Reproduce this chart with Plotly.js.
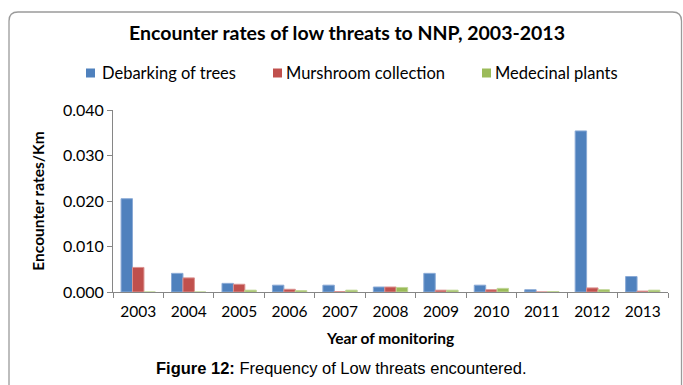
<!DOCTYPE html>
<html>
<head>
<meta charset="utf-8">
<script src="https://cdn.plot.ly/plotly-3.0.1.min.js"></script>
<style>
  html, body { margin: 0; padding: 0; background: #fff; }
  #chart { width: 683px; height: 385px; }
</style>
</head>
<body>
<div id="chart"></div>
<script>
// Monitoring years
const years = ['2003','2004','2005','2006','2007','2008','2009','2010','2011','2012','2013'];

// Encounter rates per km for each low threat
const debarking = [0.0205, 0.0041, 0.0019, 0.0015, 0.0015, 0.0011, 0.0041, 0.0015, 0.0005, 0.0354, 0.0034];
const mushroom  = [0.0054, 0.0031, 0.0017, 0.0006, 0.0001, 0.0011, 0.0004, 0.0005, 0.0000, 0.0009, 0.0002];
const medicinal = [0.0000, 0.0000, 0.0004, 0.0003, 0.0004, 0.0010, 0.0004, 0.0008, 0.0001, 0.0005, 0.0004];

const seriesNames = ['Debarking of trees', 'Murshroom collection', 'Medecinal plants'];
const seriesColors = ['#4F81BD', '#C0504D', '#9BBB59'];
const seriesEdges  = ['#8AAAD6', '#DB9290', '#C0D697'];

const chartTitle = 'Encounter rates of low threats to NNP, 2003-2013';
const yTitle = 'Encounter rates/Km';
const xTitle = 'Year of monitoring';
const captionBold = 'Figure 12:';
const captionText = ' Frequency of Low threats encountered.';

// plot area in pixels
const W = 683, H = 385;
const L = 113, R = 668, T = 110, B = 292;
const px = x => (x - L) / (R - L);
const py = y => (B - y) / (B - T);

const FONT = 'Lato, "Open Sans", sans-serif';
const values = [debarking, mushroom, medicinal];

const traces = values.map((v, i) => ({
  type: 'bar',
  x: years,
  y: v,
  name: seriesNames[i],
  marker: { color: seriesColors[i], line: { color: seriesEdges[i], width: 1 } },
  showlegend: false,
  hoverinfo: 'x+y+name'
}));

// legend entries: square swatch + label
const legendSquares = [86, 273, 482];
const legendText = [100, 284, 493];
const legendY = 73;
const shapes = [];
const annotations = [];
seriesNames.forEach((n, i) => {
  shapes.push({
    type: 'rect', xref: 'paper', yref: 'paper',
    x0: px(legendSquares[i]), x1: px(legendSquares[i] + 9),
    y0: py(legendY + 4.5), y1: py(legendY - 4.5),
    fillcolor: seriesColors[i], line: { width: 0 }
  });
  annotations.push({
    xref: 'paper', yref: 'paper', x: px(legendText[i]), y: py(legendY),
    xanchor: 'left', yanchor: 'middle', showarrow: false,
    text: n, font: { family: FONT, size: 16.5, color: '#000' }
  });
});

// rounded outer frame, open at the bottom
const fx0 = px(9), fx1 = px(681.5), fyt = py(12), fyb = py(400);
const rx = 9 / (R - L), ry = 9 / (B - T);
shapes.push({
  type: 'path', xref: 'paper', yref: 'paper', layer: 'below',
  path: `M ${fx0},${fyb} L ${fx0},${fyt - ry} Q ${fx0},${fyt} ${fx0 + rx},${fyt} ` +
        `L ${fx1 - rx},${fyt} Q ${fx1},${fyt} ${fx1},${fyt - ry} L ${fx1},${fyb}`,
  line: { color: '#9A9A9A', width: 1.3 }
});

// chart title
annotations.push({
  xref: 'paper', yref: 'paper', x: px(347), y: py(32),
  xanchor: 'center', yanchor: 'middle', showarrow: false,
  text: '<b>' + chartTitle + '</b>', font: { family: FONT, size: 19.5, color: '#000' }
});

// figure caption
annotations.push({
  xref: 'paper', yref: 'paper', x: px(341), y: py(368),
  xanchor: 'center', yanchor: 'middle', showarrow: false,
  text: '<b>' + captionBold + '</b>' + captionText,
  font: { family: '"Liberation Sans", Arial, sans-serif', size: 16.5, color: '#000' }
});

const layout = {
  width: W, height: H,
  margin: { l: L, r: W - R, t: T, b: H - B, pad: 0 },
  paper_bgcolor: '#fff', plot_bgcolor: '#fff',
  barmode: 'group', bargap: 0.32, bargroupgap: 0,
  showlegend: false,
  font: { family: FONT, color: '#000' },
  xaxis: {
    type: 'category',
    tickson: 'boundaries', ticks: 'outside', ticklen: 5, tickcolor: '#868686', tickwidth: 1,
    ticklabelstandoff: 5,
    showline: true, linecolor: '#868686', linewidth: 1,
    showgrid: false, zeroline: false,
    tickfont: { family: FONT, size: 15.5, color: '#000' },
    title: { text: '<b>' + xTitle + '</b>', font: { family: FONT, size: 15.5, color: '#000' }, standoff: 14 }
  },
  yaxis: {
    range: [0, 0.04], dtick: 0.01, tickformat: '.3f',
    ticks: 'outside', ticklen: 5, tickcolor: '#868686', tickwidth: 1,
    showline: true, linecolor: '#868686', linewidth: 1,
    showgrid: false, zeroline: false,
    tickfont: { family: FONT, size: 16, color: '#000' },
    title: { text: '<b>' + yTitle + '</b>', font: { family: FONT, size: 15.5, color: '#000' }, standoff: 14 }
  },
  shapes: shapes,
  annotations: annotations
};

Plotly.newPlot('chart', traces, layout, { displayModeBar: false, staticPlot: true });
</script>
</body>
</html>
